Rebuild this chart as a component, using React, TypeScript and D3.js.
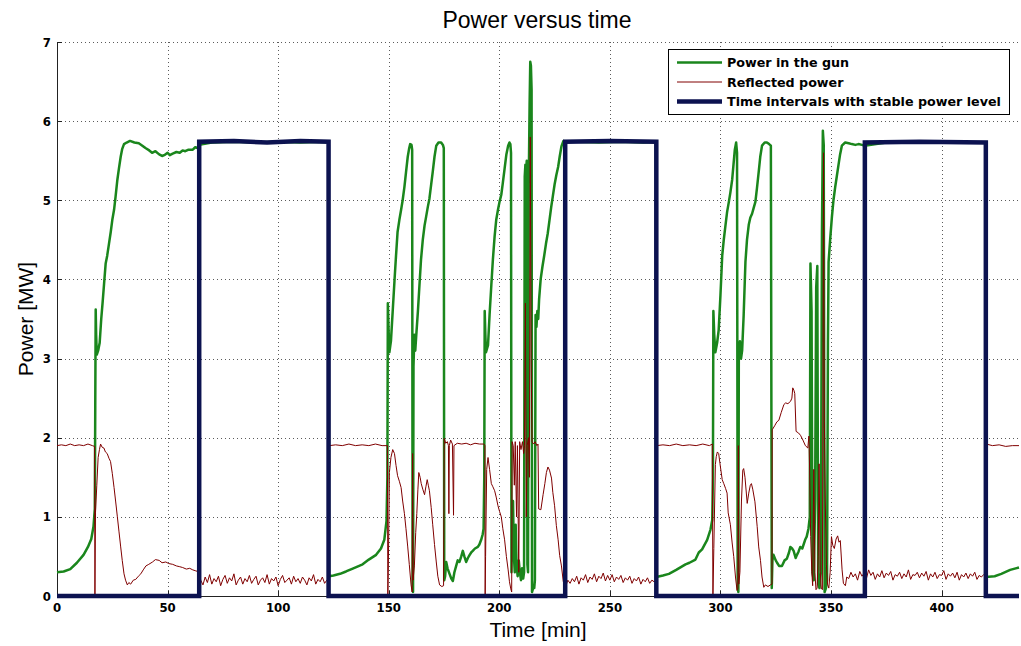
import React from 'react';
import * as d3 from 'd3';

type P = [number, number];

const xTicks = [0, 50, 100, 150, 200, 250, 300, 350, 400];
const yTicks = [0, 1, 2, 3, 4, 5, 6, 7];

const titleText = 'Power versus time';
const xLabel = 'Time [min]';
const yLabel = 'Power [MW]';
const legendLabels = ['Power in the gun', 'Reflected power', 'Time intervals with stable power level'];

// Power in the gun [min, MW]
const gunPower: P[] = [
  [0, 0.30], [3, 0.31], [6, 0.34], [9, 0.42], [12, 0.52], [14, 0.62], [15.5, 0.72], [16.5, 0.88], [17.1, 1.1],
  [17.3, 2.4], [17.5, 3.62], [17.7, 3.3], [18, 3.05], [18.6, 3.1], [19.3, 3.2], [20, 3.5], [20.6, 3.7], [21.3, 3.95],
  [22, 4.2], [22.7, 4.3], [23.5, 4.45], [24.3, 4.6], [25, 4.75], [25.8, 4.88], [26.5, 5.05], [27.3, 5.26], [28, 5.4],
  [28.8, 5.55], [29.5, 5.65], [30.3, 5.71], [31.5, 5.73], [33, 5.75], [35, 5.73], [37, 5.72], [38.6, 5.69], [40, 5.66],
  [41.7, 5.63], [43, 5.6], [44.5, 5.62], [46.2, 5.58], [47.5, 5.56], [48.5, 5.57], [50, 5.6], [51, 5.57], [52.3, 5.59],
  [54, 5.61], [55.5, 5.6], [56.8, 5.63], [58, 5.62], [59.5, 5.64], [61.4, 5.64], [62.5, 5.67], [63.6, 5.66], [64.3, 5.7],
  [70, 5.73], [80, 5.74], [90, 5.73], [100, 5.74], [110, 5.73], [120, 5.74], [122.8, 5.73], [123, 0.25],
  [125, 0.26], [128, 0.28], [130.7, 0.31], [134, 0.35], [138.2, 0.4], [141, 0.46], [144.3, 0.52], [146.5, 0.6], [148, 0.71],
  [149, 0.95], [149.4, 1.5], [149.6, 3.7], [149.9, 3.4], [150.3, 3.08], [151, 3.22], [151.8, 3.6], [152.6, 3.98], [153.3, 4.3],
  [154, 4.6], [154.8, 4.75], [155.6, 4.88], [156.3, 5.0], [157.1, 5.17], [157.8, 5.35], [158.6, 5.55], [159.2, 5.65],
  [159.7, 5.71], [160.3, 5.7], [160.6, 5.64], [160.8, 0.1], [161.0, 0.05], [161.2, 2.9], [161.6, 3.3], [162.0, 3.1],
  [162.4, 3.27], [163.2, 3.6], [163.9, 3.93], [164.6, 4.25], [165.4, 4.5], [166.2, 4.68], [166.9, 4.79], [167.7, 4.92],
  [168.4, 5.02], [169.2, 5.2], [169.9, 5.36], [170.7, 5.55], [171.5, 5.69], [172.5, 5.73], [173.7, 5.73], [174.5, 5.7],
  [174.9, 5.66], [175.1, 0.2], [175.5, 0.25], [176, 0.43], [176.6, 0.35], [177.5, 0.28], [178.3, 0.22], [179, 0.19],
  [179.7, 0.3], [180.5, 0.38], [181.2, 0.45], [182, 0.43], [182.8, 0.5], [183.5, 0.57], [184.2, 0.5], [185, 0.43],
  [185.8, 0.48], [186.6, 0.52], [187.3, 0.55], [188, 0.57], [189, 0.6], [190.3, 0.62], [191, 0.65], [191.8, 0.71],
  [192.5, 0.78], [192.9, 0.85], [193.2, 1.5], [193.4, 3.6], [193.7, 3.3], [194, 3.08], [194.9, 3.17], [195.6, 3.55],
  [196.4, 3.93], [197.1, 4.25], [197.9, 4.55], [198.6, 4.75], [199.4, 4.88], [200.1, 4.98], [200.9, 5.07], [201.6, 5.22],
  [202.4, 5.4], [203.2, 5.58], [204, 5.69], [204.6, 5.73], [205, 5.71], [205.3, 5.6], [205.5, 0.3],
  [205.8, 0.8], [206.2, 1.2], [206.6, 0.5], [207, 0.3], [207.4, 0.9], [207.8, 0.4], [208.3, 0.25], [208.8, 0.45],
  [209.3, 0.3], [209.8, 0.2], [210.3, 0.35], [210.8, 0.22], [211.2, 0.3], [211.5, 5.3], [211.8, 5.45], [212.1, 5.35],
  [212.4, 5.5], [212.7, 0.4], [213.0, 0.3], [213.3, 5.2], [213.7, 6.2], [214.0, 6.75], [214.3, 6.7], [214.6, 6.4],
  [214.8, 0.05], [215.3, 0.1], [215.8, 0.1], [216.1, 0.2], [216.4, 3.55], [216.8, 3.4], [217.2, 3.6], [217.6, 3.5],
  [218, 3.75], [218.7, 4.0], [219.5, 4.16], [220.3, 4.3], [221.1, 4.45], [221.9, 4.58], [222.7, 4.75], [223.5, 4.92],
  [224.2, 5.05], [225, 5.2], [225.8, 5.32], [226.6, 5.42], [227.3, 5.55], [228.1, 5.68], [229, 5.75], [229.8, 5.74],
  [235, 5.74], [245, 5.73], [255, 5.74], [265, 5.73], [270.8, 5.74], [271, 0.24],
  [274, 0.26], [276.7, 0.28], [280, 0.33], [284.2, 0.4], [286, 0.42], [288.7, 0.46], [290.2, 0.55], [291.7, 0.59],
  [294, 0.71], [295.5, 0.84], [296.3, 0.96], [296.6, 1.5], [296.8, 3.6], [297.2, 3.3], [297.7, 3.08], [298.5, 3.2],
  [299.2, 3.36], [300, 3.8], [300.8, 4.3], [301.5, 4.5], [302.3, 4.69], [303, 4.85], [303.8, 4.98], [304.5, 5.1],
  [305.3, 5.26], [305.9, 5.45], [306.5, 5.64], [307.1, 5.73], [307.5, 5.6], [307.8, 0.1], [308.1, 0.05], [308.3, 2.98],
  [308.8, 3.22], [309.3, 3.0], [309.8, 3.1], [310.5, 3.55], [311.3, 4.22], [312, 4.5], [312.8, 4.69], [313.5, 4.78],
  [314.3, 4.83], [315, 4.9], [315.8, 4.98], [316.5, 5.15], [317.3, 5.36], [318, 5.55], [318.8, 5.69], [320, 5.73],
  [321, 5.73], [322, 5.71], [322.8, 5.69], [323.2, 0.1], [323.5, 0.45], [324, 0.52], [325, 0.45], [325.6, 0.42],
  [326.5, 0.38], [327.8, 0.38], [329, 0.45], [330, 0.47], [331, 0.55], [331.6, 0.62], [332.4, 0.6], [333.1, 0.57],
  [334, 0.48], [334.6, 0.52], [335.3, 0.56], [336.1, 0.62], [337, 0.6], [338.3, 0.71], [339, 0.75], [339.8, 0.85],
  [340.4, 1.0], [340.7, 4.2], [341.2, 3.6], [341.6, 0.3], [342.2, 0.2], [342.8, 1.2], [343.3, 3.9], [343.8, 4.17],
  [344.2, 0.15], [344.8, 0.1], [345.4, 0.3], [345.9, 4.6], [346.3, 5.88], [346.7, 5.7], [347.1, 0.05], [347.7, 0.1],
  [348.2, 0.2], [348.6, 3.2], [348.9, 4.22], [349.6, 4.5], [350.4, 4.79], [351.1, 5.0], [351.9, 5.17], [352.6, 5.3],
  [353.4, 5.45], [354.1, 5.58], [354.9, 5.69], [356.4, 5.73], [358, 5.72], [359.4, 5.71], [361, 5.7], [362.4, 5.71],
  [364, 5.7], [365.1, 5.69], [375, 5.73], [390, 5.73], [405, 5.73], [419.8, 5.73], [420, 0.24], [424, 0.25],
  [427, 0.28], [431, 0.33], [435, 0.36],
];

// Reflected power [min, MW]
const reflectedPower: P[] = [
  [0, 1.9], [2, 1.91], [4, 1.9], [6, 1.92], [8, 1.9], [10, 1.91], [12, 1.9], [14, 1.92], [16, 1.9], [17, 1.89],
  [17.15, 0], [17.4, 1.05], [18, 1.4], [18.6, 1.75], [19.2, 1.85], [19.7, 1.92], [20.4, 1.88], [21.2, 1.87],
  [21.9, 1.82], [22.7, 1.8], [23.5, 1.74], [24.2, 1.7], [25, 1.55], [25.8, 1.37], [26.5, 1.2], [27.3, 1.0],
  [28, 0.82], [28.8, 0.62], [29.5, 0.45], [30.3, 0.28], [31, 0.2], [31.8, 0.14], [32.5, 0.17], [33.3, 0.15],
  [34.5, 0.2], [35.6, 0.21], [36.8, 0.25], [37.9, 0.28], [39, 0.33], [40.2, 0.38], [41.5, 0.4], [43.2, 0.43],
  [44.5, 0.46], [46.2, 0.45], [47.5, 0.42], [49.2, 0.43], [50.5, 0.41], [52.3, 0.4], [54, 0.38], [55.5, 0.37],
  [56.8, 0.36], [58.5, 0.34], [60, 0.35], [61.4, 0.33], [62.5, 0.32], [63.6, 0.31], [64.3, 0.28],
  [65, 0.2], [66, 0.14], [67, 0.24], [68, 0.17], [69, 0.27], [70, 0.15], [71, 0.22], [72, 0.18], [73, 0.25],
  [74, 0.13], [75, 0.21], [76, 0.26], [77, 0.16], [78, 0.23], [79, 0.19], [80, 0.28], [81, 0.14], [82, 0.2],
  [83, 0.24], [84, 0.15], [85, 0.22], [86, 0.18], [87, 0.26], [88, 0.16], [89, 0.21], [90, 0.25], [91, 0.14],
  [92, 0.2], [93, 0.23], [94, 0.17], [95, 0.27], [96, 0.15], [97, 0.22], [98, 0.19], [99, 0.24], [100, 0.13],
  [101, 0.21], [102, 0.26], [103, 0.17], [104, 0.2], [105, 0.23], [106, 0.15], [107, 0.25], [108, 0.18],
  [109, 0.22], [110, 0.16], [111, 0.24], [112, 0.2], [113, 0.14], [114, 0.23], [115, 0.19], [116, 0.27],
  [117, 0.15], [118, 0.21], [119, 0.18], [120, 0.24], [121, 0.16], [122, 0.2], [122.8, 0.2],
  [123.2, 1.9], [126, 1.91], [129, 1.9], [132, 1.92], [135, 1.9], [138, 1.91], [141, 1.9], [144, 1.92], [147, 1.9],
  [149.4, 1.9], [149.6, 0], [149.8, 0.3], [150.3, 1.56], [151, 1.75], [151.8, 1.85], [152.6, 1.8], [153.3, 1.65],
  [154, 1.52], [154.8, 1.45], [155.6, 1.37], [156.3, 1.2], [157.1, 1.04], [157.8, 0.85], [158.6, 0.62], [159.3, 0.4],
  [160.1, 0.14], [160.6, 0.05], [160.8, 1.8], [161.0, 0.2], [161.6, 0.38], [162.2, 0.8], [162.7, 1.04], [163.2, 1.35],
  [163.6, 1.56], [164.2, 1.5], [164.7, 1.42], [165.4, 1.35], [166.2, 1.28], [166.8, 1.38], [167.4, 1.47], [167.9, 1.4],
  [168.4, 1.33], [169.2, 1.12], [169.9, 0.9], [170.7, 0.65], [171.5, 0.43], [172.2, 0.25], [173, 0.14], [174, 0.12],
  [174.8, 0.13], [175.1, 1.99], [175.8, 1.93], [176.5, 1.95], [177, 1.9], [177.2, 1.04], [177.4, 1.9], [178, 1.97],
  [178.8, 1.92], [179.3, 1.02], [179.5, 1.9], [181, 1.93], [183, 1.92], [185, 1.93], [187, 1.91], [189, 1.93],
  [191, 1.92], [193, 1.92], [193.5, 1.9], [193.6, 0], [193.8, 0.5], [194.3, 1.6], [194.9, 1.75], [195.6, 1.6],
  [196.4, 1.42], [197.1, 1.38], [197.9, 1.33], [198.6, 1.25], [199.4, 1.14], [200.1, 1.07], [200.9, 1.0], [201.6, 0.85],
  [202.4, 0.71], [203.2, 0.5], [204, 0.33], [204.6, 0.18], [205.2, 0.09], [205.6, 0.05], [205.8, 1.95], [206.3, 1.9],
  [206.8, 1.4], [207.2, 1.95], [207.8, 1.0], [208.2, 1.9], [208.8, 0.3], [209.2, 1.95], [209.8, 1.85], [210.5, 1.95],
  [211, 1.8], [211.4, 1.9], [211.8, 3.7], [212.2, 1.0], [212.6, 1.9], [213.2, 2.0], [213.6, 1.5], [214.0, 5.8],
  [214.4, 3.0], [214.8, 1.95], [215.5, 1.92], [216.2, 1.95], [217, 1.9], [217.5, 1.92], [217.8, 1.1], [218.8, 1.09],
  [219.8, 1.28], [220.6, 1.42], [221.3, 1.56], [222, 1.63], [222.7, 1.59], [223.6, 1.49], [224.2, 1.31], [225, 1.14],
  [225.8, 0.89], [226.6, 0.71], [227.3, 0.51], [228.1, 0.38], [228.9, 0.19], [229.6, 0.09],
  [230, 0.12], [231, 0.2], [232, 0.16], [233, 0.22], [234, 0.18], [235, 0.25], [236, 0.15], [237, 0.23], [238, 0.2],
  [239, 0.27], [240, 0.17], [241, 0.24], [242, 0.21], [243, 0.28], [244, 0.18], [245, 0.25], [246, 0.22], [247, 0.29],
  [248, 0.19], [249, 0.26], [250, 0.2], [251, 0.27], [252, 0.18], [253, 0.24], [254, 0.21], [255, 0.26], [256, 0.17],
  [257, 0.23], [258, 0.2], [259, 0.25], [260, 0.16], [261, 0.22], [262, 0.19], [263, 0.24], [264, 0.15], [265, 0.21],
  [266, 0.18], [267, 0.23], [268, 0.16], [269, 0.2], [270, 0.18], [270.8, 0.2],
  [271.2, 1.9], [274, 1.91], [277, 1.9], [280, 1.92], [283, 1.9], [286, 1.91], [289, 1.9], [292, 1.92], [295, 1.9],
  [296.3, 1.92], [296.6, 0], [297, 0.6], [297.7, 1.66], [298.1, 1.76], [298.6, 1.82], [299.2, 1.8], [299.8, 1.67],
  [300.8, 1.47], [301.5, 1.42], [302.3, 1.36], [303, 1.3], [303.5, 1.05], [304.5, 0.9], [305.3, 0.67], [306, 0.5],
  [306.8, 0.24], [307.5, 0.07], [307.9, 0.1], [308.1, 1.9], [308.3, 0.15], [308.8, 0.3], [309.5, 1.2], [310.1, 1.59],
  [310.5, 1.61], [311.1, 1.5], [312.1, 1.17], [312.8, 1.3], [313.5, 1.4], [314.0, 1.42], [314.6, 1.35], [315.6, 1.19],
  [316.6, 0.88], [317.3, 0.62], [318.1, 0.45], [318.8, 0.24], [319.6, 0.11], [320.3, 0.14], [321.5, 0.12], [322.6, 0.14],
  [323.3, 0.15], [323.4, 2.1], [324.5, 2.15], [325.5, 2.2], [326.4, 2.22], [327.5, 2.32], [328.7, 2.42], [329.5, 2.44],
  [330.5, 2.43], [331.7, 2.46], [332.3, 2.5], [332.7, 2.63], [333.2, 2.6], [333.6, 2.56], [334.2, 2.08], [335.3, 2.06],
  [336.2, 2.03], [337.3, 1.97], [338.4, 1.9], [339.5, 1.87], [340, 2.02], [340.3, 1.63], [340.8, 0.75], [341.3, 0.31],
  [341.7, 0.13], [342.2, 1.6], [342.7, 0.3], [343.2, 0.08], [343.7, 0.1], [344.2, 0.5], [344.6, 1.67], [345.1, 0.31],
  [345.6, 0.1], [346.1, 0.08], [346.6, 5.6], [347, 2.2], [347.4, 1.2], [347.9, 0.4], [348.4, 0.15], [349, 0.1],
  [349.6, 0.3], [350.2, 0.75], [350.8, 0.64], [351.5, 0.6], [352.3, 0.72], [353, 0.76], [353.6, 0.68], [354.2, 0.7],
  [355, 0.33], [355.6, 0.16], [356.5, 0.13], [357.1, 0.24],
  [358, 0.22], [359, 0.3], [360, 0.24], [361, 0.28], [362, 0.2], [363, 0.31], [364, 0.25], [365, 0.29], [366, 0.22],
  [367, 0.33], [368, 0.26], [369, 0.3], [370, 0.21], [371, 0.28], [372, 0.24], [373, 0.32], [374, 0.23], [375, 0.29],
  [376, 0.26], [377, 0.31], [378, 0.2], [379, 0.27], [380, 0.25], [381, 0.3], [382, 0.22], [383, 0.28], [384, 0.24],
  [385, 0.33], [386, 0.21], [387, 0.27], [388, 0.26], [389, 0.3], [390, 0.23], [391, 0.29], [392, 0.25], [393, 0.31],
  [394, 0.2], [395, 0.28], [396, 0.24], [397, 0.3], [398, 0.22], [399, 0.27], [400, 0.26], [401, 0.32], [402, 0.21],
  [403, 0.28], [404, 0.25], [405, 0.29], [406, 0.23], [407, 0.3], [408, 0.2], [409, 0.27], [410, 0.24], [411, 0.29],
  [412, 0.22], [413, 0.28], [414, 0.25], [415, 0.3], [416, 0.21], [417, 0.26], [418, 0.24], [419, 0.27], [419.8, 0.25],
  [420.2, 1.92], [423, 1.9], [426, 1.91], [429, 1.89], [432, 1.9], [435, 1.9],
];

// Time intervals with stable power level [min, MW]
const stableLevel: P[] = [
  [0, 0], [64.3, 0], [64.3, 5.74], [80, 5.75], [95, 5.73], [110, 5.75], [122.8, 5.74], [122.8, 0],
  [229.8, 0], [229.8, 5.74], [250, 5.75], [271, 5.74], [271, 0],
  [365.3, 0], [365.3, 5.73], [390, 5.74], [420, 5.73], [420, 0], [435, 0],
];

const GREEN = '#1a861c';
const RED = '#800000';
const BLUE = '#0c1250';

export default function App() {
  const W = 1021;
  const H = 646;
  const x = d3.scaleLinear().domain([0, 435]).range([57, 1019]);
  const y = d3.scaleLinear().domain([0, 7]).range([596, 42]);
  const line = d3.line<P>().x((d) => x(d[0])).y((d) => y(d[1]));
  const [x0, x1] = x.range();
  const [y0, y1] = y.range();

  const tickFont = "'Liberation Sans Narrow', 'Arial Narrow', 'DejaVu Sans Condensed', sans-serif";
  const labelFont = "'Liberation Sans', Arial, sans-serif";
  const legendFont = "'DejaVu Sans', Verdana, sans-serif";

  const legendX = 668;
  const legendY = 49;
  const legendRows = [
    { label: legendLabels[0], color: GREEN, width: 2.5, y: 62.5 },
    { label: legendLabels[1], color: RED, width: 1, y: 82 },
    { label: legendLabels[2], color: BLUE, width: 4.5, y: 101.5 },
  ];

  return (
    <svg width={W} height={H} style={{ position: 'absolute', left: 0, top: 0, background: '#fff' }}>
      <rect x={0} y={0} width={W} height={H} fill="#fff" />
      {/* grid */}
      <g stroke="#333" strokeWidth={1} strokeDasharray="1,3" opacity={0.8}>
        {xTicks.filter((t) => t > 0).map((t) => (
          <line key={'gx' + t} x1={Math.round(x(t)) + 0.5} x2={Math.round(x(t)) + 0.5} y1={y1} y2={y0} />
        ))}
        {yTicks.filter((t) => t > 0).map((t) => (
          <line key={'gy' + t} x1={x0} x2={x1} y1={Math.round(y(t)) + 0.5} y2={Math.round(y(t)) + 0.5} />
        ))}
      </g>
      {/* axes */}
      <line x1={x0 + 0.5} x2={x0 + 0.5} y1={y1} y2={y0} stroke="#222" strokeWidth={1} />
      <line x1={x0} x2={x1} y1={y0 + 0.5} y2={y0 + 0.5} stroke="#222" strokeWidth={1} />
      {yTicks.map((t) => (
        <line key={'ty' + t} x1={x0} x2={x0 + 5} y1={Math.round(y(t)) + 0.5} y2={Math.round(y(t)) + 0.5} stroke="#222" />
      ))}
      {xTicks.map((t) => (
        <line key={'tx' + t} x1={Math.round(x(t)) + 0.5} x2={Math.round(x(t)) + 0.5} y1={y0} y2={y0 - 5} stroke="#222" />
      ))}
      {/* series */}
      <path d={line(gunPower) || ''} fill="none" stroke={GREEN} strokeWidth={2.5} strokeLinejoin="round" />
      <path d={line(reflectedPower) || ''} fill="none" stroke={RED} strokeWidth={1} strokeLinejoin="round" />
      <path d={line(stableLevel) || ''} fill="none" stroke={BLUE} strokeWidth={4.5} strokeLinejoin="miter" />
      {/* tick labels */}
      <g fontFamily={tickFont} fontWeight="bold" fontSize={13} fill="#000">
        {xTicks.map((t) => (
          <text key={'lx' + t} x={x(t)} y={612} textAnchor="middle">{t}</text>
        ))}
        {yTicks.map((t) => (
          <text key={'ly' + t} x={51} y={y(t) + 4.6} textAnchor="end">{t}</text>
        ))}
      </g>
      {/* titles */}
      <text x={537} y={28} textAnchor="middle" fontFamily={labelFont} fontSize={23} fill="#000">{titleText}</text>
      <text x={538} y={637} textAnchor="middle" fontFamily={labelFont} fontSize={21} fill="#000">{xLabel}</text>
      <text transform={`translate(33,${(y0 + y1) / 2}) rotate(-90)`} textAnchor="middle" fontFamily={labelFont} fontSize={21} fill="#000">{yLabel}</text>
      {/* legend */}
      <rect x={legendX + 0.5} y={legendY + 0.5} width={341} height={65} fill="#fff" stroke="#000" strokeWidth={1} />
      {legendRows.map((r) => (
        <g key={r.label}>
          <line x1={677} x2={722} y1={r.y} y2={r.y} stroke={r.color} strokeWidth={r.width} />
          <text x={727} y={r.y + 4.6} fontFamily={legendFont} fontWeight="bold" fontSize={12.7} fill="#000">{r.label}</text>
        </g>
      ))}
    </svg>
  );
}
